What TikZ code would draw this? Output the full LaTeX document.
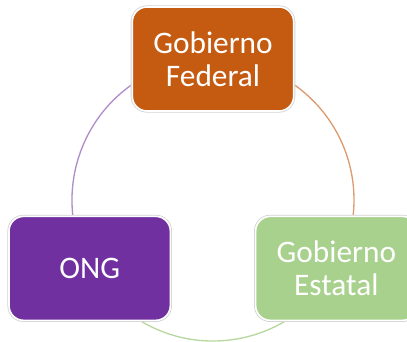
\documentclass[tikz,border=0pt]{standalone}
\usepackage{fontspec}
\setmainfont{Carlito}
\usetikzlibrary{backgrounds,calc}

\definecolor{fedorange}{HTML}{C55A11}
\definecolor{estgreen}{HTML}{A9D18E}
\definecolor{ongpurple}{HTML}{7030A0}

\begin{document}
\begin{tikzpicture}[
      x = .75pt, y = .75pt,
      every node/.style = {
        rounded corners = 11pt, draw = white, line width = 1.2pt,
        minimum width = 121pt, minimum height = 78pt,
        text = white, align = center, inner sep = 0pt,
        font = \fontsize{23.5}{25}\selectfont,
        preaction = {draw = gray!35, line width = 2.4pt}},
      ring/.style = {line width = 1pt}
      ]
    \useasboundingbox (0,0) rectangle (407,342);
    \coordinate (c) at (213,142);
    \node[fill = fedorange] (fed) at ($(c)+(90:141)$) {Gobierno\\Federal}; % top
    \node[fill = estgreen] (est) at ($(c)+(-29:141)$) {Gobierno\\Estatal}; % right
    \node[fill = ongpurple] (ong) at ($(c)+(209:141)$) {ONG}; % left
    \begin{pgfonlayer}{background}
      \draw[ring, ongpurple!55] (ong.center) arc[start angle = 209, end angle = 90, radius = 141];
      \draw[ring, fedorange!60] (fed.center) arc[start angle = 90, end angle = -29, radius = 141];
      \draw[ring, estgreen!85] (est.center) arc[start angle = -29, end angle = -151, radius = 141];
    \end{pgfonlayer}
  \end{tikzpicture}
\end{document}
